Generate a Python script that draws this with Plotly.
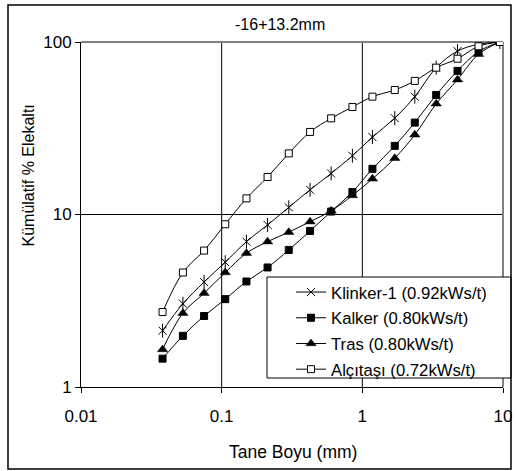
import plotly.graph_objects as go

# ---- data ----
sizes_mm = [0.038, 0.053, 0.075, 0.106, 0.15, 0.212, 0.3, 0.425, 0.6, 0.85,
            1.18, 1.7, 2.36, 3.35, 4.75, 6.7, 9.5]
klinker = [2.12, 3.04, 4.06, 5.29, 6.96, 8.7, 11.0, 13.9, 17.3, 21.9,
           28.1, 36.2, 48.2, 71, 88.5, 97, 100]
kalker = [1.46, 1.98, 2.58, 3.23, 4.09, 4.93, 6.23, 8.03, 10.4, 13.5,
          18.4, 25.0, 34.1, 49.3, 68, 88, 100]
tras = [1.65, 2.68, 3.5, 4.61, 5.97, 6.96, 7.9, 9.09, 10.5, 12.9,
        16.1, 21.2, 29.0, 43.8, 60.5, 85, 100]
alcitasi = [2.72, 4.61, 6.18, 8.78, 12.4, 16.5, 22.6, 30.1, 36.1, 42,
            48.2, 52.7, 59.5, 71, 80, 94.5, 100]

series_names = ["Klinker-1 (0.92kWs/t)", "Kalker (0.80kWs/t)",
                "Tras (0.80kWs/t)", "Alçıtaşı (0.72kWs/t)"]
x_ticks = [0.01, 0.1, 1, 10]
x_ticktext = ["0.01", "0.1", "1", "10"]
y_ticks = [1, 10, 100]
y_ticktext = ["1", "10", "100"]

title_text = "-16+13.2mm"
x_title = "Tane Boyu (mm)"
y_title = "Kümülatif % Elekaltı"

FONT = "Liberation Sans, Arial, sans-serif"
FS = 16

W, H = 516, 471
L, R, T, B = 81, 13, 42, 84
PW, PH = W - L - R, H - T - B


def px2x(px):
    return (px - L) / PW


def py2y(py):
    return (H - B - py) / PH


fig = go.Figure()

line_style = dict(color="black", width=1, shape="spline", smoothing=1)

fig.add_trace(go.Scatter(
    x=sizes_mm, y=klinker, name=series_names[0], mode="lines+markers",
    line=line_style, legendgroup="a",
    marker=dict(symbol="x-thin-open", size=8, color="black",
                line=dict(color="black", width=1))))
fig.add_trace(go.Scatter(
    x=sizes_mm, y=klinker, mode="markers", showlegend=False, hoverinfo="skip",
    legendgroup="a",
    marker=dict(symbol="line-ns-open", size=10, color="black",
                line=dict(color="black", width=1))))
fig.add_trace(go.Scatter(
    x=sizes_mm, y=kalker, name=series_names[1], mode="lines+markers",
    line=line_style, legendgroup="b",
    marker=dict(symbol="square", size=7, color="black",
                line=dict(color="black", width=1))))
fig.add_trace(go.Scatter(
    x=sizes_mm, y=tras, name=series_names[2], mode="lines+markers",
    line=line_style, legendgroup="c",
    marker=dict(symbol="triangle-up", size=9, color="black",
                line=dict(color="black", width=0.5))))
fig.add_trace(go.Scatter(
    x=sizes_mm, y=alcitasi, name=series_names[3], mode="lines+markers",
    line=line_style, legendgroup="d",
    marker=dict(symbol="square", size=7, color="white",
                line=dict(color="black", width=1))))

shapes = []
# inner gridlines (black)
for xv in x_ticks[1:-1]:
    shapes.append(dict(type="line", xref="x", yref="paper", x0=xv, x1=xv,
                       y0=0, y1=1, line=dict(color="black", width=1),
                       layer="below"))
for yv in y_ticks[1:-1]:
    shapes.append(dict(type="line", xref="paper", yref="y", x0=0, x1=1,
                       y0=yv, y1=yv, line=dict(color="black", width=1),
                       layer="below"))
# grey top / right border of plot area
shapes.append(dict(type="line", xref="paper", yref="paper", x0=0, x1=1,
                   y0=1, y1=1, line=dict(color="#808080", width=2),
                   layer="below"))
shapes.append(dict(type="line", xref="paper", yref="paper", x0=1, x1=1,
                   y0=0, y1=1, line=dict(color="#808080", width=2),
                   layer="below"))
# legend box
shapes.append(dict(type="rect", xref="paper", yref="paper",
                   x0=px2x(267), x1=px2x(511), y0=py2y(378), y1=py2y(277),
                   fillcolor="white", line=dict(color="black", width=1),
                   layer="above"))
# outer chart border
shapes.append(dict(type="rect", xref="paper", yref="paper",
                   x0=px2x(8), x1=px2x(511), y0=py2y(469), y1=py2y(5),
                   fillcolor="rgba(0,0,0,0)", line=dict(color="black", width=1.5),
                   layer="above"))

annotations = [
    dict(text=title_text, xref="paper", yref="paper", x=px2x(280), y=py2y(25),
         xanchor="center", yanchor="middle", showarrow=False,
         font=dict(family=FONT, size=16, color="black")),
    dict(text=x_title, xref="paper", yref="paper", x=px2x(293), y=py2y(452),
         xanchor="center", yanchor="middle", showarrow=False,
         font=dict(family=FONT, size=17.5, color="black")),
    dict(text=y_title, xref="paper", yref="paper", x=px2x(27.5), y=py2y(176),
         xanchor="center", yanchor="middle", showarrow=False, textangle=-90,
         font=dict(family=FONT, size=16, color="black")),
]

fig.update_layout(
    width=W, height=H,
    margin=dict(l=L, r=R, t=T, b=B, pad=0, autoexpand=False),
    paper_bgcolor="white", plot_bgcolor="white",
    font=dict(family=FONT, size=FS, color="black"),
    showlegend=True,
    legend=dict(x=px2x(291), y=py2y(274.7), xanchor="left", yanchor="top",
                bgcolor="rgba(0,0,0,0)", borderwidth=0,
                font=dict(family=FONT, size=16.7, color="black"),
                tracegroupgap=1, itemwidth=30),
    shapes=shapes,
    annotations=annotations,
    xaxis=dict(type="log", range=[-2, 1], tickvals=x_ticks, ticktext=x_ticktext,
               showgrid=False, zeroline=False, showline=True, linecolor="black",
               linewidth=1, ticks="outside", ticklen=5, tickcolor="black",
               ticklabelstandoff=9,
               tickfont=dict(family=FONT, size=17, color="black")),
    yaxis=dict(type="log", range=[0, 2], tickvals=y_ticks, ticktext=y_ticktext,
               showgrid=False, zeroline=False, showline=True, linecolor="black",
               linewidth=1, ticks="outside", ticklen=5, tickcolor="black",
               tickfont=dict(family=FONT, size=17, color="black")),
)

fig.write_html("out.html")
